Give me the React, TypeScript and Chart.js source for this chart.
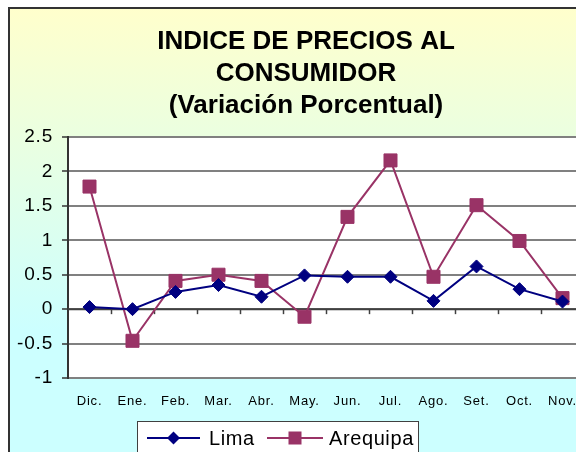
import React, { useEffect, useRef } from 'react';
import { Chart, registerables } from 'chart.js';

Chart.register(...registerables);

const categories = ['Dic.', 'Ene.', 'Feb.', 'Mar.', 'Abr.', 'May.', 'Jun.', 'Jul.', 'Ago.', 'Set.', 'Oct.', 'Nov.'];
const limaValues = [0.03, 0.0, 0.25, 0.35, 0.18, 0.49, 0.47, 0.47, 0.12, 0.62, 0.29, 0.11];
const arequipaValues = [1.78, -0.46, 0.41, 0.5, 0.41, -0.11, 1.34, 2.16, 0.47, 1.51, 0.99, 0.16];
const seriesNames = ['Lima', 'Arequipa'];
const titleLines = ['INDICE DE PRECIOS AL', 'CONSUMIDOR', '(Variación Porcentual)'];
const yMin = -1;
const yMax = 2.5;
const yStep = 0.5;

const FONT = '"Liberation Sans", Arial, sans-serif';
const LIMA_COLOR = '#000080';
const AREQ_COLOR = '#993366';
const W = 612;
const H = 470;

const framePlugin = {
  id: 'framePlugin',
  beforeDraw(chart: any) {
    const ctx = chart.ctx;
    const ca = chart.chartArea;
    ctx.save();
    ctx.letterSpacing = '0px';
    const g = ctx.createLinearGradient(0, 8, 0, 330);
    g.addColorStop(0, '#FFFFCC');
    g.addColorStop(1, '#CCFFFF');
    ctx.fillStyle = g;
    ctx.fillRect(9, 8, 594, 458);
    ctx.fillStyle = '#FFFFFF';
    ctx.fillRect(ca.left, ca.top, ca.right - ca.left, ca.bottom - ca.top);
    ctx.strokeStyle = '#333333';
    ctx.lineWidth = 2;
    ctx.strokeRect(9, 8, 594, 458);

    // title
    ctx.fillStyle = '#000000';
    ctx.font = 'bold 26px ' + FONT;
    ctx.textAlign = 'center';
    ctx.textBaseline = 'alphabetic';
    titleLines.forEach((t, i) => ctx.fillText(t, 306, 49 + i * 32));

    // legend box
    ctx.fillStyle = '#FFFFFF';
    ctx.fillRect(137, 421, 281, 40);
    ctx.strokeStyle = '#404040';
    ctx.lineWidth = 1;
    ctx.strokeRect(137.5, 421.5, 281, 40);
    const items = [
      { x0: 147, x1: 200, tx: 209 },
      { x0: 267, x1: 323, tx: 329 },
    ];
    const ly = 438;
    chart.data.datasets.forEach((ds: any, i: number) => {
      const it = items[i];
      ctx.strokeStyle = ds.borderColor;
      ctx.lineWidth = 2;
      ctx.beginPath();
      ctx.moveTo(it.x0, ly);
      ctx.lineTo(it.x1, ly);
      ctx.stroke();
      ctx.fillStyle = ds.borderColor;
      const cx = (it.x0 + it.x1) / 2;
      ctx.beginPath();
      if (ds.pointStyle === 'rectRot') {
        const r = ds.pointRadius;
        ctx.moveTo(cx - r, ly);
        ctx.lineTo(cx, ly - r);
        ctx.lineTo(cx + r, ly);
        ctx.lineTo(cx, ly + r);
        ctx.closePath();
      } else {
        const s = ds.pointRadius * Math.SQRT1_2;
        ctx.rect(cx - s, ly - s, 2 * s, 2 * s);
      }
      ctx.fill();
      ctx.fillStyle = '#000000';
      ctx.font = '20px ' + FONT;
      ctx.letterSpacing = '0.6px';
      ctx.textAlign = 'left';
      ctx.textBaseline = 'alphabetic';
      ctx.fillText(ds.label, it.tx, 445);
      ctx.letterSpacing = '0px';
    });
    ctx.restore();
    // axis labels in the reference are slightly letter-spaced
    ctx.letterSpacing = '0.8px';
  },
  afterDraw(chart: any) {
    chart.ctx.letterSpacing = '0px';
  },
};

const zeroAxisPlugin = {
  id: 'zeroAxisPlugin',
  beforeDatasetsDraw(chart: any) {
    const ctx = chart.ctx;
    const ca = chart.chartArea;
    const ys = chart.scales.y;
    const xs = chart.scales.x;
    const y0 = ys.getPixelForValue(0);
    ctx.save();
    ctx.strokeStyle = '#404040';
    ctx.lineWidth = 2;
    ctx.beginPath();
    ctx.moveTo(ca.left, y0);
    ctx.lineTo(ca.right, y0);
    ctx.stroke();
    ctx.lineWidth = 1.5;
    const n = categories.length;
    const half = (xs.getPixelForValue(1) - xs.getPixelForValue(0)) / 2;
    for (let i = 0; i < n; i++) {
      const x = Math.round(xs.getPixelForValue(i) + half) + 0.5;
      ctx.beginPath();
      ctx.moveTo(x, y0);
      ctx.lineTo(x, y0 + 5);
      ctx.stroke();
    }
    ctx.restore();
  },
};

export default function App() {
  const ref = useRef<HTMLCanvasElement | null>(null);
  useEffect(() => {
    if (!ref.current) return;
    const chart = new Chart(ref.current, {
      type: 'line',
      data: {
        labels: categories,
        datasets: [
          {
            label: seriesNames[0],
            data: limaValues,
            borderColor: LIMA_COLOR,
            backgroundColor: LIMA_COLOR,
            borderWidth: 2,
            pointStyle: 'rectRot',
            pointRadius: 6.5,
            pointBorderWidth: 1,
            pointBackgroundColor: LIMA_COLOR,
            pointBorderColor: LIMA_COLOR,
            tension: 0,
          },
          {
            label: seriesNames[1],
            data: arequipaValues,
            borderColor: AREQ_COLOR,
            backgroundColor: AREQ_COLOR,
            borderWidth: 2,
            pointStyle: 'rect',
            pointRadius: 9.2,
            pointBorderWidth: 1,
            pointBackgroundColor: AREQ_COLOR,
            pointBorderColor: AREQ_COLOR,
            tension: 0,
          },
        ],
      } as any,
      options: {
        responsive: false,
        devicePixelRatio: 1,
        animation: false,
        layout: { padding: { top: 137, left: 0, right: 28, bottom: 52 } },
        plugins: {
          legend: { display: false },
          title: { display: false },
          tooltip: { enabled: false },
        },
        scales: {
          x: {
            type: 'category',
            offset: true,
            grid: { display: false, drawTicks: false },
            border: { display: false },
            ticks: {
              color: '#000000',
              font: { family: FONT, size: 13 },
              padding: 16,
              maxRotation: 0,
              autoSkip: false,
            },
            afterFit: (s: any) => {
              s.height = 40;
            },
          },
          y: {
            type: 'linear',
            min: yMin,
            max: yMax,
            grid: {
              color: '#808080',
              lineWidth: 2,
              drawTicks: true,
              tickLength: 6,
              tickColor: '#333333',
              tickWidth: 1.5,
            },
            border: { display: true, color: '#333333', width: 2 },
            ticks: {
              stepSize: yStep,
              color: '#000000',
              font: { family: FONT, size: 19 },
              padding: 9,
              callback: (v: any) => String(Math.round(Number(v) * 10) / 10),
            },
            afterFit: (s: any) => {
              s.width = 68;
            },
          },
        },
      } as any,
      plugins: [framePlugin, zeroAxisPlugin],
    });
    return () => chart.destroy();
  }, []);

  return (
    <div style={{ position: 'fixed', left: 0, top: 0, width: '100vw', height: '100vh', overflow: 'hidden', background: '#ffffff' }}>
      <canvas ref={ref} width={W} height={H} style={{ position: 'absolute', left: 0, top: 0, width: W, height: H }} />
    </div>
  );
}
